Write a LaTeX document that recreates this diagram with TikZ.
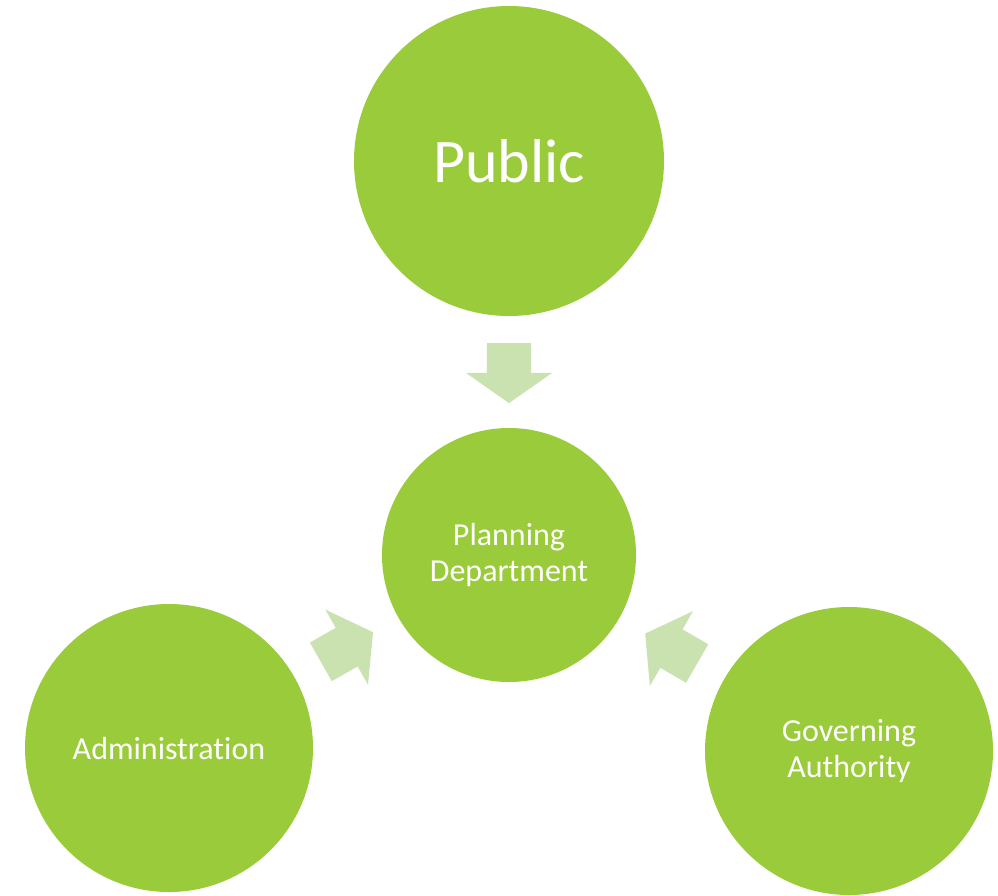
\documentclass[tikz,border=0pt]{standalone}
\usepackage{fontspec}
\setmainfont{Carlito}[Ligatures=NoCommon]
\usetikzlibrary{shapes.arrows}
\definecolor{limegreen}{RGB}{154,203,58}
\definecolor{palegreen}{RGB}{201,226,176}

\begin{document}
\begin{tikzpicture}[x=1pt, y=1pt,
	bubble/.style={circle, fill=limegreen, text=white, inner sep=0pt, align=center, font=\fontsize{32}{36}\selectfont},
	flow/.style={single arrow, fill=palegreen, inner sep=0pt, text height=44pt, text depth=0pt, minimum height=60pt, single arrow head extend=21pt, single arrow tip angle=110, pos=0.44, sloped, allow upside down}]
	\useasboundingbox (0,0) rectangle (998,-895);
	\node [bubble, minimum size=310pt, font=\fontsize{62}{74}\selectfont] (public) at (509,-161) {Public};
	\node [bubble, minimum size=254pt] (plan) at (509,-555) {Planning\\Department};
	\node [bubble, minimum size=288pt] (admin) at (169,-748) {Administration};
	\node [bubble, minimum size=288pt] (gov) at (849,-751) {Governing\\Authority};
	% arrows into the middle
	\path (public) -- node [flow] {} (plan);
	\path (admin) -- node [flow] {} (plan);
	\path (gov) -- node [flow] {} (plan);
\end{tikzpicture}
\end{document}
